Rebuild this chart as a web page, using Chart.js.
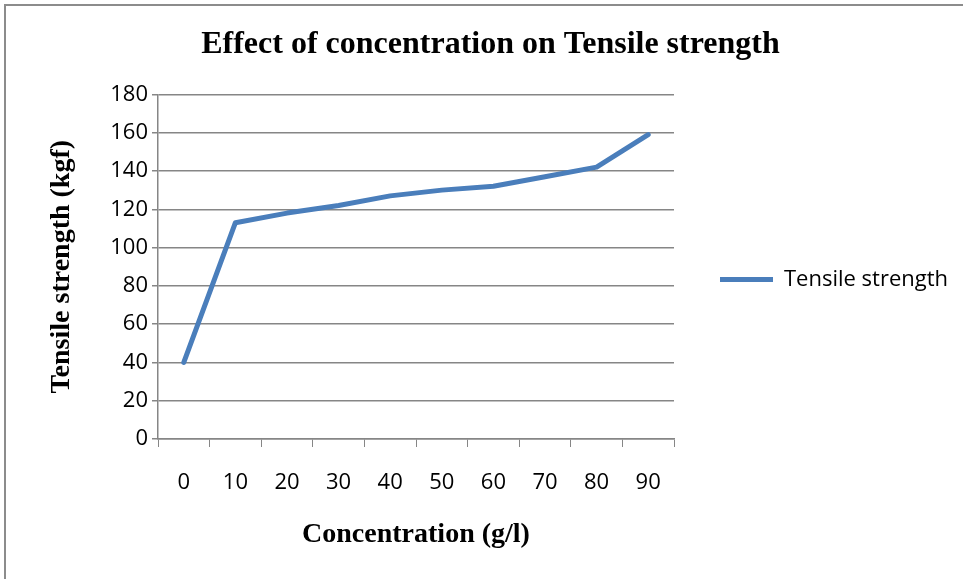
<!DOCTYPE html>
<html>
<head>
<meta charset="utf-8">
<script src="https://cdn.jsdelivr.net/npm/chart.js@4/dist/chart.umd.min.js"></script>
<style>
    html, body { margin: 0; padding: 0; background: #fff; overflow: hidden; }
    #wrap { position: relative; width: 963px; height: 579px; }
    #frame {
        position: absolute; left: 4px; top: 4px; width: 1000px; height: 1000px;
        border-left: 2px solid #8c8c8c; border-top: 2px solid #8c8c8c;
    }
    canvas { position: absolute; left: 0; top: 0; }
</style>
</head>
<body>
<div id="wrap">
    <div id="frame"></div>
    <canvas id="tensileChart" width="963" height="579"></canvas>
</div>
<script>
const concentrations = ['0', '10', '20', '30', '40', '50', '60', '70', '80', '90'];
const tensileStrength = [40, 113, 118, 122, 127, 130, 132, 137, 142, 159];

const axisGray = '#868686';
const lineBlue = '#4a7ebb';
const tickFont = { family: '"Open Sans", sans-serif', size: 22 };
const serifBold = (size) => ({ family: '"Liberation Serif", "Times New Roman", serif', size, weight: 'bold' });

// Excel keeps a wide empty column for the legend; pin its width.
const legendWidth = {
    id: 'legendWidth',
    beforeLayout(chart) {
        const legend = chart.legend;
        if (!legend || legend._pinned) return;
        const fit = legend.fit;
        legend.fit = function () {
            fit.call(this);
            this.width = 289;
        };
        legend._pinned = true;
    },
};

new Chart(document.getElementById('tensileChart'), {
    type: 'line',
    data: {
        labels: concentrations,
        datasets: [{
            label: 'Tensile strength',
            data: tensileStrength,
            borderColor: lineBlue,
            backgroundColor: lineBlue,
            borderWidth: 5,
            borderCapStyle: 'round',
            borderJoinStyle: 'round',
            pointRadius: 0,
            pointStyle: 'line',
            tension: 0,
        }],
    },
    plugins: [legendWidth],
    options: {
        responsive: false,
        animation: false,
        layout: { padding: { left: 18, right: 0, top: 0, bottom: 20 } },
        plugins: {
            title: {
                display: true,
                text: 'Effect of concentration on Tensile strength',
                color: '#000',
                font: serifBold(32),
                padding: { top: 26, bottom: 30 },
            },
            legend: {
                position: 'right',
                labels: {
                    usePointStyle: true,
                    pointStyleWidth: 53,
                    padding: 46,
                    color: '#000',
                    font: tickFont,
                },
            },
            tooltip: { enabled: false },
        },
        scales: {
            x: {
                offset: true,
                grid: { offset: true, drawOnChartArea: false, drawTicks: true, tickLength: 8, color: axisGray },
                border: { color: axisGray, width: 1.5 },
                ticks: { color: '#000', font: tickFont, padding: 23, maxRotation: 0 },
                title: {
                    display: true,
                    text: 'Concentration (g/l)',
                    color: '#000',
                    font: serifBold(28),
                    padding: { top: 10, bottom: 7 },
                },
                afterFit: (scale) => { scale.height = 120; },
            },
            y: {
                min: 0,
                max: 180,
                ticks: { stepSize: 20, color: '#000', font: tickFont, padding: 4 },
                grid: { color: axisGray, lineWidth: 1.5, tickLength: 6 },
                border: { color: axisGray, width: 1.5 },
                title: {
                    display: true,
                    text: 'Tensile strength (kgf)',
                    color: '#000',
                    font: serifBold(28),
                    padding: { top: 27, bottom: 0 },
                },
                afterFit: (scale) => { scale.width = 140; },
            },
        },
    },
});
</script>
</body>
</html>
